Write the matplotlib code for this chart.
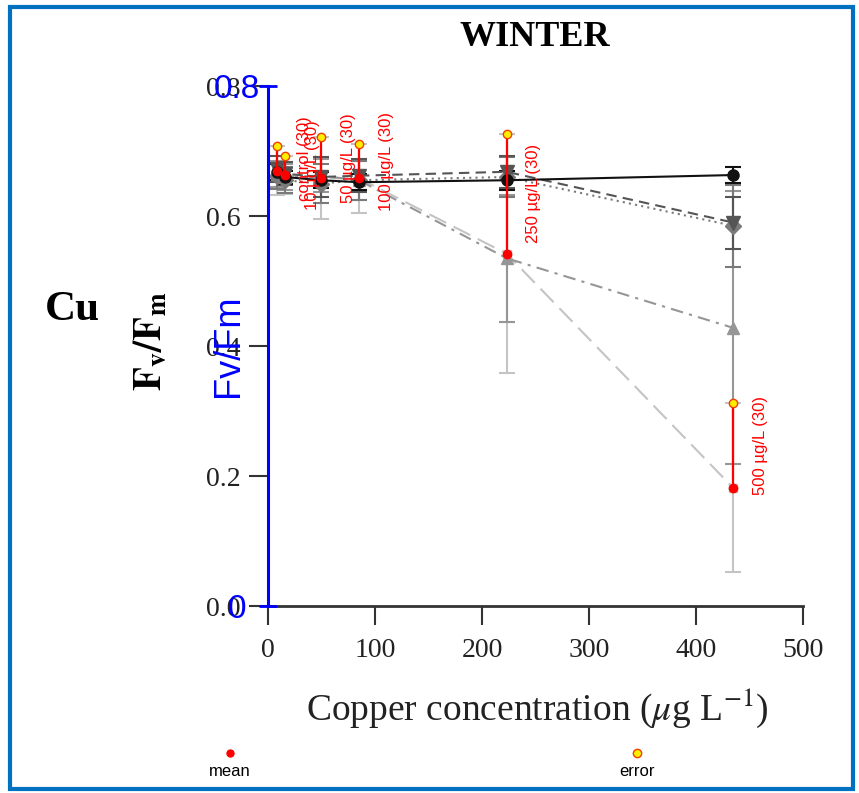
import matplotlib.pyplot as plt
from matplotlib.lines import Line2D
from matplotlib.patches import Rectangle

plt.rcParams['mathtext.fontset'] = 'stix'
serif = ['Liberation Serif', 'DejaVu Serif']
sans = ['Liberation Sans', 'DejaVu Sans']

# measured copper concentrations (ug/L)
conc = [8.4, 15.9, 49.5, 85.0, 223.0, 434.6]
labels = ['control (30)', '10 µg/L (30)', '50 µg/L (30)', '100 µg/L (30)',
          '250 µg/L (30)', '500 µg/L (30)']

# highlighted series: mean and mean + error
mean_fvfm = [0.670, 0.663, 0.658, 0.658, 0.542, 0.182]
error_top = [0.708, 0.692, 0.721, 0.711, 0.726, 0.312]

# other series in the grey background figure
black_mean = [0.668, 0.660, 0.655, 0.652, 0.655, 0.663]
black_err = [0.012, 0.010, 0.012, 0.012, 0.015, 0.012]
dash_mean = [0.672, 0.665, 0.660, 0.662, 0.668, 0.590]
dash_err = [0.020, 0.018, 0.030, 0.025, 0.025, 0.040]
dot_mean = [0.662, 0.655, 0.650, 0.655, 0.660, 0.585]
dot_err = [0.020, 0.020, 0.030, 0.030, 0.030, 0.063]
dashdot_mean = [0.665, 0.660, 0.662, 0.655, 0.535, 0.428]
dashdot_err = [0.020, 0.020, 0.025, 0.030, 0.098, 0.210]
light_err = [e - m for e, m in zip(error_top, mean_fvfm)]

fig = plt.figure(figsize=(8.59, 7.93), dpi=100)
pos = [268 / 859, 187 / 793, 535 / 859, 520 / 793]
ax = fig.add_axes(pos)

styles = [
    (mean_fvfm, light_err, '#c4c4c4', (0, (9, 4)), 's', 6),
    (dashdot_mean, dashdot_err, '#969696', (0, (6, 3, 1.5, 3)), '^', 9),
    (dot_mean, dot_err, '#7a7a7a', (0, (1, 2)), 'D', 8),
    (dash_mean, dash_err, '#555555', (0, (5, 3)), 'v', 10),
    (black_mean, black_err, '#111111', '-', 'o', 8),
]
for vals, errs, col, ls, mk, ms in styles:
    ax.errorbar(conc, vals, yerr=errs, color=col, ls=ls, lw=1.5, marker=mk,
                ms=ms, capsize=6, elinewidth=1.5, capthick=1.5, zorder=2)

ax.set_xlim(0, 500)
ax.set_ylim(0, 0.8)
ax.set_xticks([0, 100, 200, 300, 400, 500])
ax.set_yticks([0, 0.2, 0.4, 0.6, 0.8])
ax.set_yticklabels(['0.0', '0.2', '0.4', '0.6', '0.8'])
ax.tick_params(axis='both', direction='out', length=14, width=1.5,
               color='#333333', labelsize=20, labelcolor='#222222')
ax.tick_params(axis='x', pad=9)
ax.tick_params(axis='y', pad=6)
for t in ax.get_xticklabels() + ax.get_yticklabels():
    t.set_family(serif)
for s in ['top', 'right']:
    ax.spines[s].set_visible(False)
ax.spines['bottom'].set_linewidth(2)
ax.spines['bottom'].set_color('#333333')
ax.spines['left'].set_color('#333333')

# red overlay: mean -> error
for x, m, e, lab in zip(conc, mean_fvfm, error_top, labels):
    ax.plot([x, x], [m, e], color='red', lw=1.6, zorder=5)
    ax.plot(x, m, 'o', color='red', ms=6, zorder=6)
    ax.plot(x, e, 'o', mfc='#ffee00', mec='#f04000', mew=1, ms=6, zorder=6)
    ax.annotate(lab, xy=(x, (m + e) / 2), xytext=(19.5, 0),
                textcoords='offset points', rotation=90, ha='center',
                va='center', color='red', fontsize=12, family=sans, zorder=7)

# blue overlay axis
ax2 = fig.add_axes(pos, facecolor='none')
ax2.set_ylim(0, 0.8)
ax2.set_xticks([])
for s in ['top', 'right', 'bottom']:
    ax2.spines[s].set_visible(False)
ax2.spines['left'].set_color('blue')
ax2.spines['left'].set_linewidth(2.2)
ax2.set_yticks([0, 0.8])
ax2.set_yticklabels(['0', '0.8'])
ax2.tick_params(axis='y', direction='inout', length=13, width=2, color='blue',
                labelcolor='blue', labelsize=24, pad=16)
for t in ax2.get_yticklabels():
    t.set_family(sans)
    t.set_ha('center')
ax2.set_ylabel('Fv/Fm', color='blue', fontsize=26, family=sans)
ax2.yaxis.set_label_coords(-0.041, 0.5)

# texts of the background figure
fig.text(535 / 859, 1 - 37 / 793, 'WINTER', ha='center', va='center',
         fontsize=26, fontweight='bold', family=serif)
fig.text(72 / 859, 1 - 310 / 793, 'Cu', ha='center', va='center',
         fontsize=31, fontweight='bold', family=serif)
fig.text(150 / 859, 1 - 341 / 793, r'$\mathbf{F_v/F_m}$', ha='center',
         va='center', rotation=90, fontsize=28)
fig.text(537 / 859, 1 - 708 / 793, r'Copper concentration ($\mu$g L$^{-1}$)',
         ha='center', va='center', fontsize=27, family=serif, color='#222222')

# legend below
fig.add_artist(Line2D([230 / 859], [1 - 753 / 793], marker='o', color='red',
                      ms=5, ls='none'))
fig.add_artist(Line2D([637 / 859], [1 - 753 / 793], marker='o', mfc='#ffee00',
                      mec='#f04000', ms=6, ls='none'))
fig.text(230 / 859, 1 - 772 / 793, 'mean', ha='center', va='center',
         fontsize=12, family=sans)
fig.text(637 / 859, 1 - 772 / 793, 'error', ha='center', va='center',
         fontsize=12, family=sans)

# blue frame
fig.add_artist(Rectangle((10 / 859, 4 / 793), 843 / 859, 782 / 793,
                         transform=fig.transFigure, fill=False,
                         edgecolor='#0070c0', lw=3))

fig.savefig('out.png', dpi=100)
